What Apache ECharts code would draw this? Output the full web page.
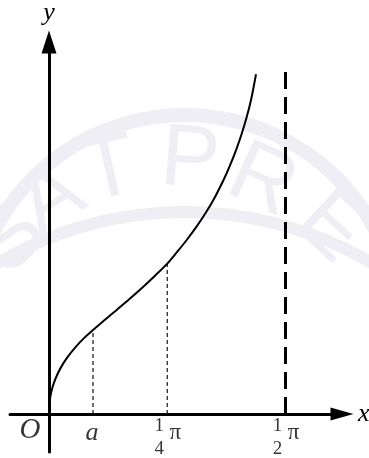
<!DOCTYPE html>
<html>
<head>
<meta charset="utf-8">
<script src="https://cdn.jsdelivr.net/npm/echarts@6/dist/echarts.min.js"></script>
<style>
  html, body { margin: 0; padding: 0; background: #fff; }
  #chart { width: 369px; height: 458px; }
</style>
</head>
<body>
<div id="chart"></div>
<script>
// Sampled points of the curve (x in radians, y in plot units)
const curveX = [0, 0.0020, 0.0066, 0.0166, 0.0332, 0.0598, 0.0930, 0.1328, 0.1793, 0.2325, 0.2922,
                0.3719, 0.4497, 0.5380, 0.6263, 0.7040, 0.7854, 0.8482, 0.9146, 0.9810, 1.0474,
                1.1026, 1.1577, 1.2022, 1.2467, 1.2799, 1.3131, 1.3436, 1.3749];
const curveY = [0, 0.087, 0.151, 0.229, 0.314, 0.410, 0.501, 0.588, 0.674, 0.759, 0.840,
                0.942, 1.041, 1.155, 1.273, 1.383, 1.504, 1.616, 1.740, 1.876, 2.028,
                2.171, 2.335, 2.486, 2.657, 2.802, 2.969, 3.153, 3.397];

// Marked points on the x axis
const aIndex = 10;           // x = a
const quarterIndex = 16;     // x = π/4
const asymptoteX = Math.PI / 2;
const asymptoteTop = 3.42;

// Tick labels: [x, fraction numerator, fraction denominator]
const fracLabels = [[Math.PI / 4, '1', '4'], [Math.PI / 2, '1', '2']];
const letterLabels = [['O', 0], ['a', curveX[aIndex]]];

// Axis ranges
const xMin = -0.259, xMax = 1.946;
const yMin = -0.38, yMax = 3.72;

const serif = '"Liberation Serif", "DejaVu Serif", serif';
const ink = '#000';
const mark = '#eeeef4';

const curveData = curveX.map((x, i) => [x, curveY[i]]);
const guide = i => [[curveX[i], 0], [curveX[i], curveY[i]]];

const labelItems = [];
letterLabels.forEach(([t, x]) => {
  labelItems.push({
    value: [x, 0],
    label: t === 'O'
      ? { formatter: t, offset: [-19, 16], fontSize: 29 }
      : { formatter: t, offset: [-1, 19], fontSize: 26 }
  });
});
fracLabels.forEach(([x, n, d]) => {
  labelItems.push({
    value: [x, 0],
    label: {
      formatter: '{n|' + n + '}\n{d|' + d + '}',
      offset: [-8, 24],
      fontStyle: 'normal'
    }
  });
  labelItems.push({
    value: [x, 0],
    label: { formatter: 'π', offset: [8, 19], fontStyle: 'normal', fontSize: 23 }
  });
});

// Faint background lettering
const wm = [['S', 12, 240, 0.85], ['A', 52, 200, 0.55], ['T', 110, 172, 0.22],
            ['P', 190, 162, -0.08], ['R', 262, 182, -0.42], ['E', 330, 228, -0.75]];
const graphicEls = wm.map(([t, x, y, r]) => ({
  type: 'text', x: x, y: y, rotation: r, silent: true, z: -10,
  style: { text: t, font: '88px "Liberation Sans", sans-serif', fill: mark,
           align: 'center', verticalAlign: 'middle' }
}));
graphicEls.push({
  type: 'arc', silent: true, z: -10,
  shape: { cx: 185, cy: 330, r: 215, startAngle: Math.PI * 1.03, endAngle: Math.PI * 1.97 },
  style: { stroke: mark, lineWidth: 14, fill: null }
});
graphicEls.push({
  type: 'arc', silent: true, z: -10,
  shape: { cx: 185, cy: 580, r: 368, startAngle: Math.PI * 1.2, endAngle: Math.PI * 1.8 },
  style: { stroke: mark, lineWidth: 12, fill: null }
});

const chart = echarts.init(document.getElementById('chart'), null, { renderer: 'canvas' });
chart.setOption({
  backgroundColor: '#fff',
  animation: false,
  graphic: { elements: graphicEls },
  grid: { left: 10, right: 27, top: 42, bottom: 6, containLabel: false, outerBoundsMode: 'none' },
  xAxis: {
    type: 'value', min: xMin, max: xMax,
    axisLine: { onZero: true, lineStyle: { color: ink, width: 3 },
                symbol: ['none', 'triangle'], symbolSize: [13, 23] },
    axisTick: { show: false }, axisLabel: { show: false }, splitLine: { show: false },
    name: 'x', nameLocation: 'end', nameGap: 16,
    nameTextStyle: { fontFamily: serif, fontStyle: 'italic', fontSize: 26, color: ink, verticalAlign: 'middle' }
  },
  yAxis: {
    type: 'value', min: yMin, max: yMax,
    axisLine: { onZero: true, lineStyle: { color: ink, width: 3 },
                symbol: ['none', 'triangle'], symbolSize: [15, 23] },
    axisTick: { show: false }, axisLabel: { show: false }, splitLine: { show: false },
    name: 'y', nameLocation: 'end', nameGap: 16,
    nameTextStyle: { fontFamily: serif, fontStyle: 'italic', fontSize: 26, color: ink }
  },
  series: [
    {
      type: 'line', data: curveData, smooth: 0.3, showSymbol: false, z: 5,
      lineStyle: { color: ink, width: 2 }
    },
    {
      type: 'line', data: guide(aIndex), showSymbol: false, z: 4,
      lineStyle: { color: '#222', width: 1.3, type: [4, 3] }
    },
    {
      type: 'line', data: guide(quarterIndex), showSymbol: false, z: 4,
      lineStyle: { color: '#222', width: 1.3, type: [4, 3] }
    },
    {
      type: 'line', data: [[asymptoteX, asymptoteTop], [asymptoteX, 0]], showSymbol: false, z: 4,
      lineStyle: { color: ink, width: 3, type: [17, 8] }
    },
    {
      type: 'scatter', data: labelItems, symbolSize: 0, z: 6, silent: true,
      label: {
        show: true, position: 'inside', color: ink,
        fontFamily: serif, fontStyle: 'italic', fontSize: 26,
        rich: {
          n: { fontFamily: serif, fontSize: 19, lineHeight: 23, color: ink, align: 'center' },
          d: { fontFamily: serif, fontSize: 19, lineHeight: 23, color: ink, align: 'center' }
        }
      }
    }
  ]
});
</script>
</body>
</html>
